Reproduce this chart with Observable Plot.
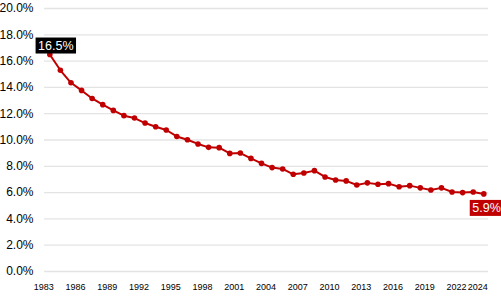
<!DOCTYPE html>
<html>
<head>
<meta charset="utf-8">
<script src="https://cdn.jsdelivr.net/npm/d3@7"></script>
<script src="https://cdn.jsdelivr.net/npm/@observablehq/plot@0.6"></script>
<style>
  html, body { margin: 0; padding: 0; background: #fff; }
  #chart { width: 501px; height: 308px; }
</style>
</head>
<body>
<div id="chart"></div>
<script>
const years = d3.range(1983, 2025);
const rates = [
  16.5, 15.3, 14.35, 13.77, 13.16, 12.69, 12.25, 11.85, 11.67, 11.29,
  11.01, 10.76, 10.27, 10.02, 9.70, 9.44, 9.42, 8.98, 9.01, 8.60,
  8.22, 7.90, 7.80, 7.39, 7.49, 7.67, 7.19, 6.96, 6.89, 6.58,
  6.74, 6.63, 6.68, 6.45, 6.53, 6.36, 6.20, 6.36, 6.05, 6.00,
  6.05, 5.90
];
const xTicks = [1983, 1986, 1989, 1992, 1995, 1998, 2001, 2004, 2007, 2010, 2013, 2016, 2019, 2022, 2024];
const yTicks = [0, 2, 4, 6, 8, 10, 12, 14, 16, 18, 20];

const data = years.map((year, i) => ({year, rate: rates[i]}));
const first = [data[0]];
const last = [data[data.length - 1]];
const red = "#c00000";
const fmt = v => v.toFixed(1) + "%";

const chart = Plot.plot({
  width: 501,
  height: 308,
  marginTop: 8,
  marginLeft: 44,
  marginRight: 13,
  marginBottom: 37,
  style: {fontFamily: "'Liberation Sans', Arial, sans-serif", fontSize: "12px", color: "#000", background: "#fff"},
  x: {domain: [1983, 2024], insetLeft: 5.3, insetRight: 4.7, label: null, axis: null},
  y: {domain: [0, 20], label: null, ticks: yTicks, tickFormat: fmt, tickSize: 0, tickPadding: 11},
  marks: [
    Plot.ruleY(yTicks, {stroke: "#e4e4e4", strokeWidth: 1.3}),
    Plot.text(xTicks, {x: d => d, y: () => 0, text: d => String(d), textAnchor: "end", dx: 4, dy: 16, fill: "#000", fontSize: 9}),
    Plot.line(data, {x: "year", y: "rate", stroke: red, strokeWidth: 2}),
    Plot.dot(data, {x: "year", y: "rate", fill: red, r: 2.8, stroke: null}),
    Plot.text(first, {x: "year", y: "rate", text: d => fmt(d.rate), dx: 6, dy: -9, fill: "white", fontSize: 12.5}),
    Plot.text(last, {x: "year", y: "rate", text: d => fmt(d.rate), dx: 2.7, dy: 14, fill: "white", fontSize: 12.5})
  ]
});

document.getElementById("chart").appendChild(chart);

function addBox(str, color) {
  d3.select(chart).selectAll("text").filter(function () {
    return this.textContent === str;
  }).each(function () {
    const b = this.getBBox();
    const padX = 2.5, padY = 1;
    d3.select(this.parentNode).insert("rect", () => this)
      .attr("x", b.x - padX)
      .attr("y", b.y - padY)
      .attr("width", b.width + 2 * padX)
      .attr("height", b.height + 2 * padY)
      .attr("transform", this.getAttribute("transform"))
      .attr("fill", color);
  });
}
addBox(fmt(rates[0]), "#000");
addBox(fmt(rates[rates.length - 1]), red);
</script>
</body>
</html>
